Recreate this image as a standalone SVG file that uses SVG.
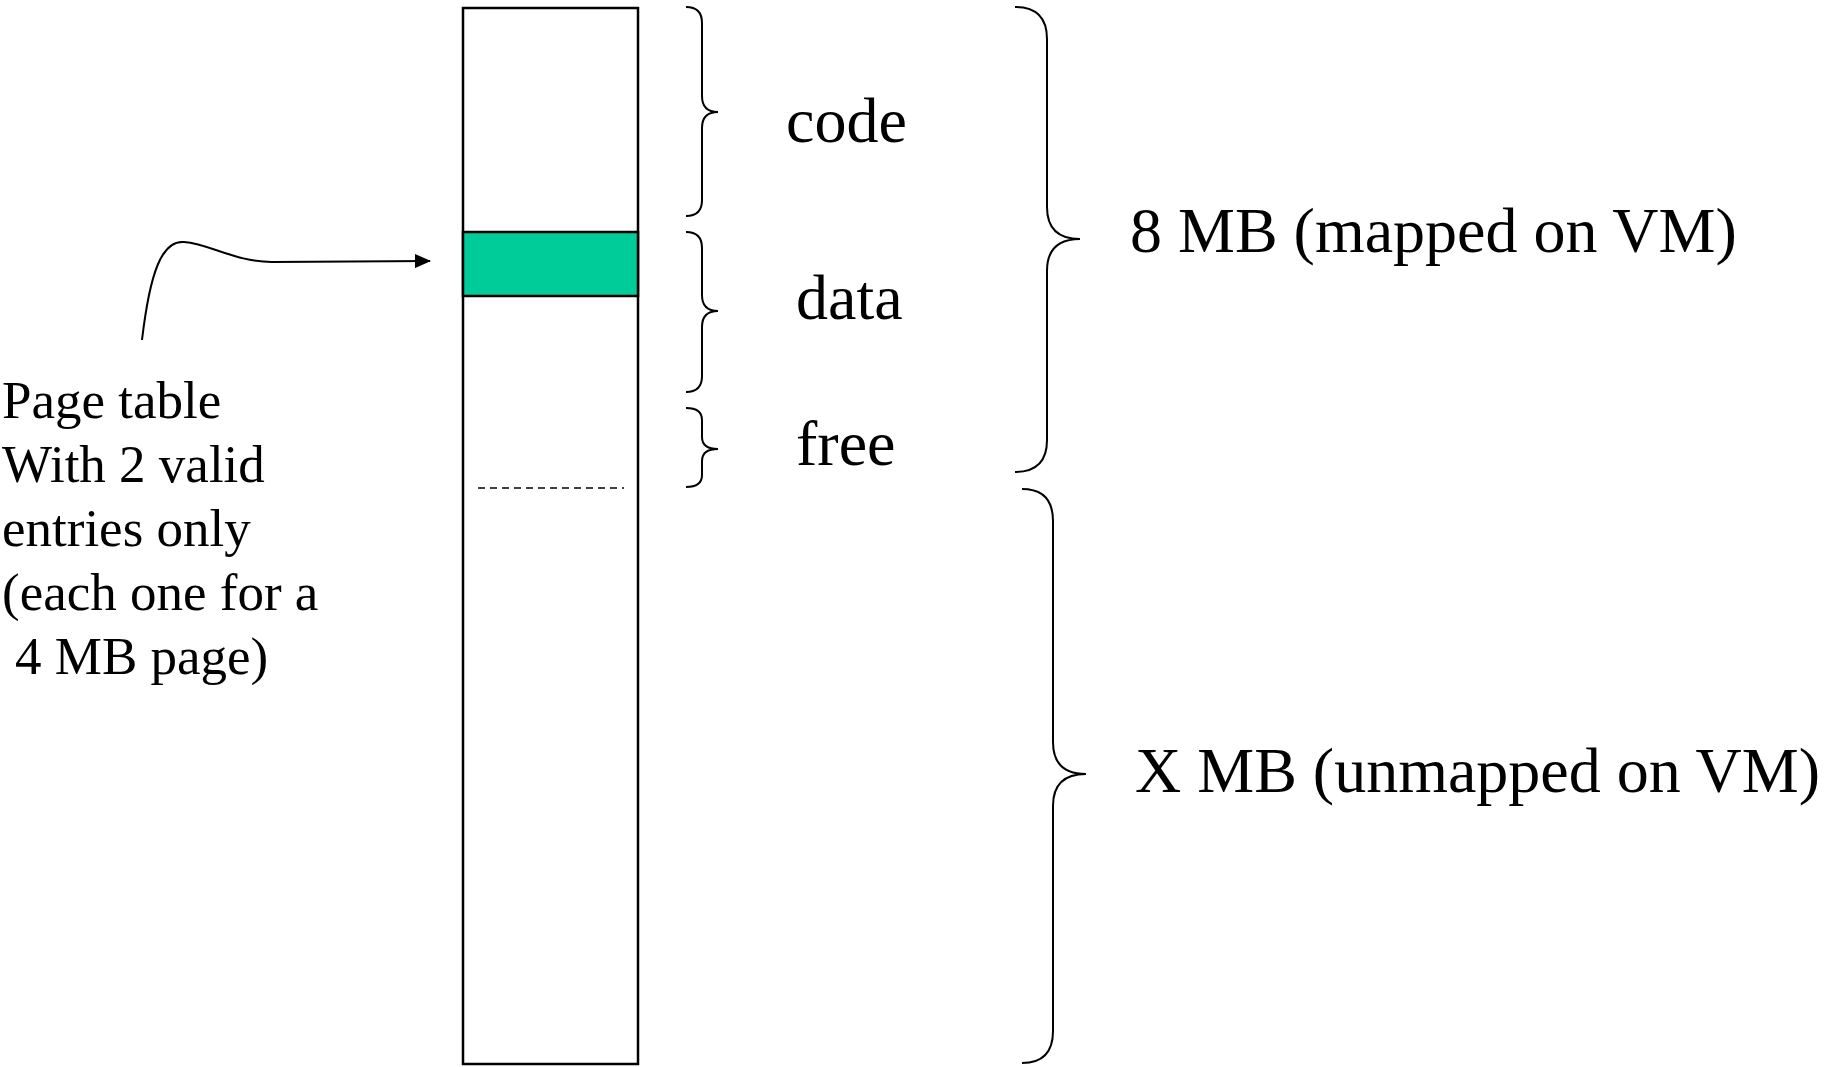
<svg xmlns="http://www.w3.org/2000/svg" width="1825" height="1067" viewBox="0 0 1825 1067">
<style>
  .t { font-family: "Liberation Serif", "Times New Roman", serif; fill: #000; }
  .big { font-size: 64px; }
  .side { font-size: 53px; }
  .brace { fill: none; stroke: #000; stroke-width: 2; }
  .box { fill: #fff; stroke: #000; stroke-width: 2.5; }
</style>
<defs>
  <marker id="arrow" markerWidth="16" markerHeight="14" refX="15" refY="7" orient="auto" markerUnits="userSpaceOnUse">
    <path d="M0,0 L16,7 L0,14 Z" fill="#000"/>
  </marker>
</defs>
<rect width="1825" height="1067" fill="#fff"/>

<g id="memory">
  <rect class="box" x="463" y="8" width="175" height="1056"/>
  <rect x="463" y="232" width="175" height="64" fill="#00CC99" stroke="#000" stroke-width="2.5"/>
  <line x1="478" y1="488" x2="624" y2="488" stroke="#000" stroke-width="1.6" stroke-dasharray="7,5"/>
</g>

<g id="brace-code">
  <path class="brace" d="M686,7 Q702,7 702,23 L702,96 Q702,112 718,112 Q702,112 702,128 L702,200 Q702,216 686,216"/>
  <text class="t big" x="786" y="142">code</text>
</g>

<g id="brace-data">
  <path class="brace" d="M686,232 Q702,232 702,248 L702,295 Q702,311 718,311 Q702,311 702,327 L702,376 Q702,392 686,392"/>
  <text class="t big" x="796" y="319">data</text>
</g>

<g id="brace-free">
  <path class="brace" d="M686,408 Q702,408 702,420 L702,437 Q702,449 718,449 Q702,449 702,461 L702,475 Q702,487 686,487"/>
  <text class="t big" x="796" y="465">free</text>
</g>

<g id="brace-mapped">
  <path class="brace" d="M1015,7 Q1047,7 1047,39 L1047,207 Q1047,239 1080,239 Q1047,239 1047,271 L1047,440 Q1047,472 1015,472"/>
  <text class="t big" x="1130" y="252" font-size="64.5">8 MB (mapped on VM)</text>
</g>

<g id="brace-unmapped">
  <path class="brace" d="M1022,489 Q1053,489 1053,521 L1053,742 Q1053,774 1086,774 Q1053,774 1053,806 L1053,1031 Q1053,1063 1022,1063"/>
  <text class="t big" x="1135" y="792" font-size="64">X MB (unmapped on VM)</text>
</g>

<g id="page-table-label">
  <text class="t side" x="2" y="418">Page table</text>
  <text class="t side" x="2" y="482">With 2 valid</text>
  <text class="t side" x="2" y="546">entries only</text>
  <text class="t side" x="2" y="610">(each one for a</text>
  <text class="t side" x="15" y="674">4 MB page)</text>
</g>

<g id="connectors">
  <path d="M142,340 C150,272 162,240 184,242 C210,244 236,262 272,262 L430,261" fill="none" stroke="#000" stroke-width="2" marker-end="url(#arrow)"/>
</g>
</svg>
